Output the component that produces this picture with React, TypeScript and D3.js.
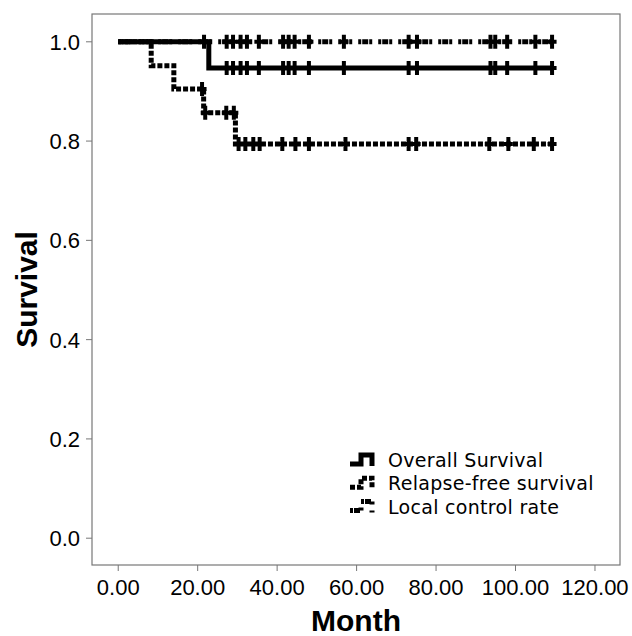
import React from 'react';
import * as d3 from 'd3';

// Kaplan-Meier steps (month, survival)
const osTimes = [0, 22.8];
const osSurv = [1, 0.947];
const osCensor = [27.3, 28.9, 30.8, 32.4, 35.4, 41.5, 42.9, 44.4, 48.0, 56.8, 73.1, 75.2, 93.7, 94.9, 97.9, 105.0, 109.2];
const osEnd = 109.5;

const rfsTimes = [0, 8.3, 14.0, 21.5, 29.5];
const rfsSurv = [1, 0.952, 0.905, 0.857, 0.794];
const rfsCensor = [21.1, 21.9, 27.2, 29.1, 30.3, 32.0, 34.0, 35.6, 41.3, 44.6, 48.0, 57.2, 73.1, 75.0, 93.4, 98.2, 104.6, 109.2];
const rfsEnd = 109.5;

const lcTimes = [0];
const lcSurv = [1];
const lcCensor = [21.6, 27.3, 28.9, 30.8, 32.4, 35.4, 41.5, 42.9, 44.4, 48.0, 56.8, 73.1, 75.2, 93.7, 94.9, 97.9, 105.0, 109.2];
const lcEnd = 109.5;

const xTicks = [0, 20, 40, 60, 80, 100, 120];
const yTicks = [0, 0.2, 0.4, 0.6, 0.8, 1.0];
const legendLabels = ['Overall Survival', 'Relapse-free survival', 'Local control rate'];

const W = 632;
const H = 636;
const left = 92, right = 620, top = 14, bottom = 565;

const x = d3.scaleLinear().domain([-6.6, 126.3]).range([left, right]);
const y = d3.scaleLinear().domain([-0.054, 1.056]).range([bottom, top]);

function stepPath(times: number[], surv: number[], end: number) {
  const pts: [number, number][] = times.map((t, i) => [t, surv[i]]);
  pts.push([end, surv[surv.length - 1]]);
  const line = d3.line<[number, number]>()
    .x(d => x(d[0]))
    .y(d => y(d[1]))
    .curve(d3.curveStepAfter);
  return line(pts) || '';
}

function survAt(times: number[], surv: number[], t: number) {
  let s = surv[0];
  times.forEach((tt, i) => { if (tt <= t) s = surv[i]; });
  return s;
}

const series = [
  { times: osTimes, surv: osSurv, censor: osCensor, end: osEnd, dash: 'none' },
  { times: rfsTimes, surv: rfsSurv, censor: rfsCensor, end: rfsEnd, dash: '5,2' },
  { times: lcTimes, surv: lcSurv, censor: lcCensor, end: lcEnd, dash: '3,1,6,1,3,6' },
];

const tickFont = '"Liberation Sans", Arial, sans-serif';

export default function App() {
  return (
    <svg width={W} height={H} style={{ position: 'absolute', left: 0, top: 0, background: '#fff' }}>
      <rect x={left} y={top} width={right - left} height={bottom - top} fill="#fff" stroke="#777" strokeWidth={1.2} />

      {yTicks.map(v => (
        <g key={'y' + v}>
          <line x1={left - 6} x2={left} y1={y(v)} y2={y(v)} stroke="#777" strokeWidth={1} />
          <text x={80} y={y(v) + 8} textAnchor="end" fontFamily={tickFont} fontSize={22} fill="#000">{v.toFixed(1)}</text>
        </g>
      ))}

      {xTicks.map(v => (
        <g key={'x' + v}>
          <line x1={x(v)} x2={x(v)} y1={bottom} y2={bottom + 6} stroke="#777" strokeWidth={1} />
          <text x={x(v)} y={595} textAnchor="middle" fontFamily={tickFont} fontSize={22} fill="#000">{v.toFixed(2)}</text>
        </g>
      ))}

      <text transform={`translate(37,${(top + bottom) / 2}) rotate(-90)`} textAnchor="middle"
        fontFamily={tickFont} fontWeight="bold" fontSize={30} fill="#000">Survival</text>
      <text x={(left + right) / 2} y={631} textAnchor="middle"
        fontFamily={tickFont} fontWeight="bold" fontSize={30} fill="#000">Month</text>

      {series.map((s, i) => (
        <g key={'s' + i}>
          <path d={stepPath(s.times, s.surv, s.end)} fill="none" stroke="#000" strokeWidth={5}
            strokeDasharray={s.dash} />
          {s.censor.map((c, j) => {
            const cx = x(c);
            const cy = y(survAt(s.times, s.surv, c));
            return (
              <path key={j} d={`M${cx},${cy - 7}V${cy + 7}M${cx - 4.5},${cy}H${cx + 4.5}`}
                stroke="#000" strokeWidth={4} fill="none" />
            );
          })}
        </g>
      ))}

      {legendLabels.map((lab, i) => {
        const by = 467 + i * 23.3;
        const d = `M350,${by - 3}H361V${by - 12}H372V${by - 1}`;
        return (
          <g key={'l' + i}>
            <path d={d} fill="none" stroke="#000" strokeWidth={5} strokeDasharray={series[i].dash} />
            <text x={388} y={by} fontFamily='"DejaVu Sans", sans-serif' fontSize={19}
              letterSpacing={0.3} fill="#000">{lab}</text>
          </g>
        );
      })}
    </svg>
  );
}
